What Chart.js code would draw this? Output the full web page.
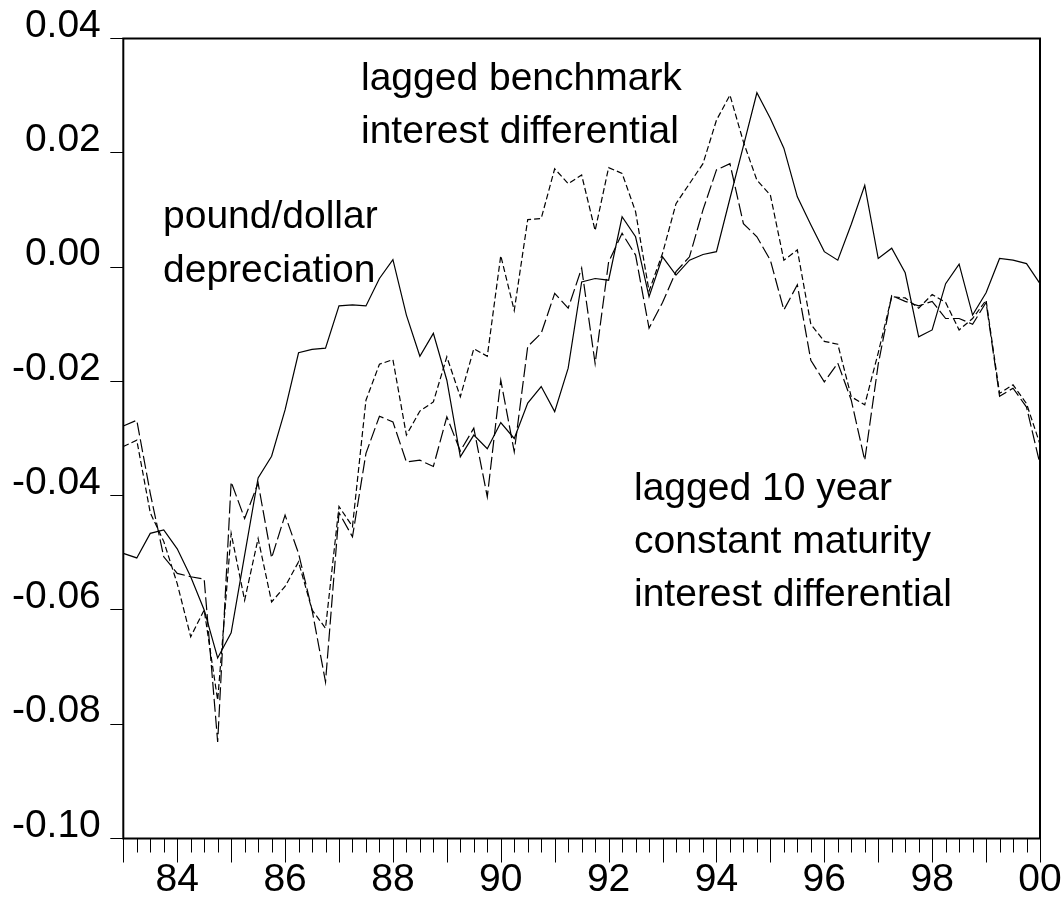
<!DOCTYPE html>
<html>
<head>
<meta charset="utf-8">
<script src="https://cdn.jsdelivr.net/npm/chart.js@4.4.1/dist/chart.umd.min.js"></script>
<style>
  html, body { margin: 0; padding: 0; background: #fff; }
  #wrap { width: 1062px; height: 898px; }
</style>
</head>
<body>
<div id="wrap"><canvas id="c" width="1062" height="898"></canvas></div>
<script>
// ---- categories: quarters 1983Q1 .. 2000Q1 ----
const quarters = [];
for (let y = 1983; y <= 2000; y++) {
  for (let q = 1; q <= 4; q++) {
    if (y === 2000 && q > 1) break;
    quarters.push(y + 'Q' + q);
  }
}

// ---- series values ----
const poundDollarDepreciation = [
  -0.0501, -0.0509, -0.0466, -0.0460, -0.0493, -0.0542, -0.0600, -0.0684, -0.0640, -0.0504,
  -0.0369, -0.0331, -0.0250, -0.0150, -0.0144, -0.0142, -0.0068, -0.0066, -0.0068, -0.0020,
   0.0013, -0.0084, -0.0156, -0.0116, -0.0198, -0.0332, -0.0294, -0.0318, -0.0272, -0.0300,
  -0.0238, -0.0209, -0.0253, -0.0177, -0.0026, -0.0020, -0.0023,  0.0088,  0.0053, -0.0052,
   0.0018, -0.0014,  0.0012,  0.0022,  0.0027,  0.0120,  0.0212,  0.0305,  0.0260,  0.0208,
   0.0123,  0.0074,  0.0027,  0.0012,  0.0075,  0.0143,  0.0015,  0.0033, -0.0010, -0.0122,
  -0.0110, -0.0029,  0.0005, -0.0084, -0.0045,  0.0015,  0.0012,  0.0006, -0.0029
];

const laggedBenchmarkDiff = [
  -0.0314, -0.0303, -0.0430, -0.0480, -0.0554, -0.0647, -0.0600, -0.0758, -0.0466, -0.0583,
  -0.0475, -0.0586, -0.0559, -0.0516, -0.0600, -0.0632, -0.0419, -0.0454, -0.0233, -0.0170,
  -0.0162, -0.0294, -0.0252, -0.0236, -0.0157, -0.0227, -0.0143, -0.0156,  0.0020, -0.0076,
   0.0083,  0.0085,  0.0172,  0.0146,  0.0161,  0.0064,  0.0174,  0.0164,  0.0097, -0.0042,
   0.0024,  0.0111,  0.0146,  0.0181,  0.0257,  0.0301,  0.0219,  0.0152,  0.0126,  0.0012,
   0.0030, -0.0100, -0.0130, -0.0135, -0.0227, -0.0241, -0.0150, -0.0052, -0.0054, -0.0072,
  -0.0048, -0.0062, -0.0110, -0.0090, -0.0058, -0.0221, -0.0206, -0.0239, -0.0310
];

const lagged10yDiff = [
  -0.0278, -0.0268, -0.0396, -0.0507, -0.0536, -0.0542, -0.0546, -0.0831, -0.0376, -0.0440,
  -0.0378, -0.0509, -0.0434, -0.0501, -0.0600, -0.0726, -0.0430, -0.0472, -0.0326, -0.0261,
  -0.0271, -0.0341, -0.0338, -0.0349, -0.0262, -0.0322, -0.0282, -0.0402, -0.0198, -0.0323,
  -0.0139, -0.0116, -0.0046, -0.0072, -0.0002, -0.0169,  0.0009,  0.0059,  0.0021, -0.0107,
  -0.0062, -0.0008,  0.0018,  0.0100,  0.0170,  0.0181,  0.0076,  0.0053,  0.0012, -0.0075,
  -0.0031, -0.0163, -0.0201, -0.0168, -0.0233, -0.0338, -0.0170, -0.0050, -0.0060, -0.0068,
  -0.0060, -0.0090, -0.0090, -0.0100, -0.0062, -0.0226, -0.0212, -0.0245, -0.0345
];

// ---- axis settings ----
const yMin = -0.10, yMax = 0.04, yStep = 0.02;

// ---- text annotations ----
const notes = [
  { text: 'pound/dollar', x: 163, y: 227.5 },
  { text: 'depreciation', x: 163, y: 281.5 },
  { text: 'lagged benchmark', x: 361, y: 90 },
  { text: 'interest differential', x: 361, y: 143 },
  { text: 'lagged 10 year', x: 634, y: 500 },
  { text: 'constant maturity', x: 634, y: 553 },
  { text: 'interest differential', x: 634, y: 606 }
];

const FONT = '"Liberation Sans", Arial, Helvetica, sans-serif';
Chart.defaults.font.family = FONT;
Chart.defaults.font.size = 39;
Chart.defaults.color = '#000';

const framePlugin = {
  id: 'framePlugin',
  afterDraw(chart) {
    const { ctx, chartArea: a, scales: { x } } = chart;
    ctx.save();
    ctx.strokeStyle = '#000';
    ctx.lineWidth = 1;
    quarters.forEach((q, i) => {
      const px = Math.round(x.getPixelForValue(i)) + 0.5;
      const len = q.endsWith('Q1') ? 24 : 14;
      ctx.beginPath();
      ctx.moveTo(px, a.bottom);
      ctx.lineTo(px, a.bottom + len);
      ctx.stroke();
    });
    ctx.lineWidth = 2;
    ctx.strokeRect(a.left, a.top, a.right - a.left, a.bottom - a.top);
    ctx.fillStyle = '#000';
    ctx.font = '39px ' + FONT;
    ctx.textAlign = 'left';
    ctx.textBaseline = 'alphabetic';
    notes.forEach(n => ctx.fillText(n.text, n.x, n.y));
    ctx.restore();
  }
};

new Chart(document.getElementById('c'), {
  type: 'line',
  data: {
    labels: quarters,
    datasets: [
      {
        label: 'pound/dollar depreciation',
        data: poundDollarDepreciation,
        borderColor: '#000', borderWidth: 1.2, pointRadius: 0, tension: 0, fill: false
      },
      {
        label: 'lagged benchmark interest differential',
        data: laggedBenchmarkDiff,
        borderColor: '#000', borderWidth: 1.2, borderDash: [6, 3], pointRadius: 0, tension: 0, fill: false
      },
      {
        label: 'lagged 10 year constant maturity interest differential',
        data: lagged10yDiff,
        borderColor: '#000', borderWidth: 1.2, borderDash: [13, 4], pointRadius: 0, tension: 0, fill: false
      }
    ]
  },
  options: {
    responsive: false,
    animation: false,
    layout: { padding: { left: 0, top: 38.5, right: 22, bottom: 0 } },
    plugins: { legend: { display: false }, tooltip: { enabled: false } },
    scales: {
      x: {
        type: 'category',
        offset: false,
        grid: { display: false, drawTicks: false },
        border: { display: false },
        ticks: {
          autoSkip: false, maxRotation: 0, minRotation: 0, padding: 18,
          callback: function (val, idx) {
            const q = quarters[idx];
            const yr = parseInt(q.slice(0, 4), 10);
            return (q.endsWith('Q1') && yr % 2 === 0) ? q.slice(2, 4) : '';
          }
        },
        afterFit: (s) => { s.height = 59.5; s.paddingLeft = 0; s.paddingRight = 0; }
      },
      y: {
        min: yMin, max: yMax,
        grid: { drawOnChartArea: false, drawTicks: true, tickLength: 13, color: '#000', lineWidth: 1 },
        border: { display: false },
        ticks: {
          stepSize: yStep, padding: 9.5, labelOffset: -12.5,
          callback: (v) => Number(v).toFixed(2)
        },
        afterFit: (s) => { s.width = 123.3; s.paddingTop = 0; s.paddingBottom = 0; }
      }
    }
  },
  plugins: [framePlugin]
});
</script>
</body>
</html>
